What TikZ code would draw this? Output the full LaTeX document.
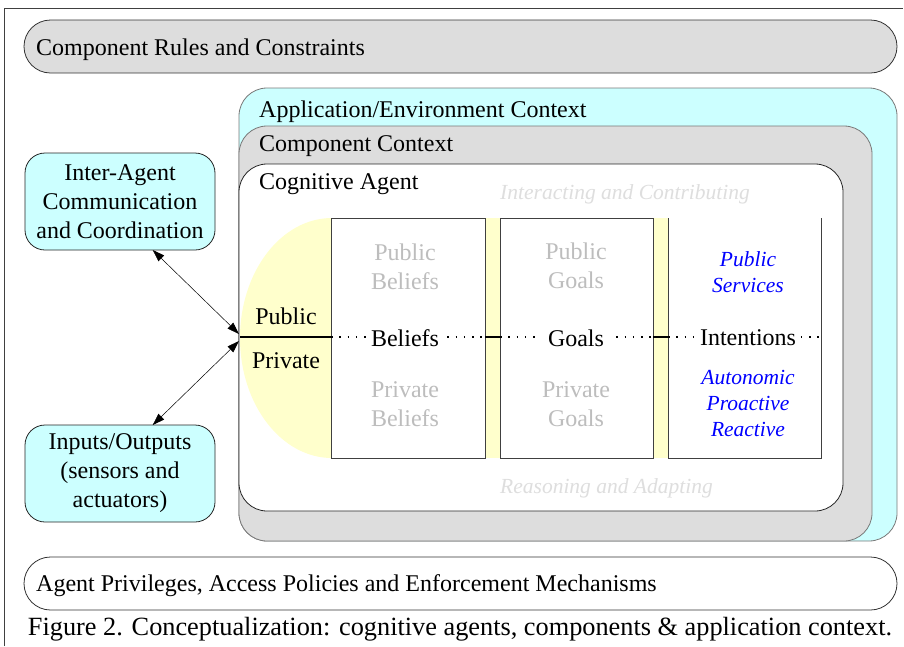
\documentclass[tikz,border=0pt]{standalone}
\usepackage{fontspec}
\setmainfont{Liberation Serif}
\usetikzlibrary{arrows.meta}
\definecolor{cyanfill}{HTML}{CCFFFF}
\definecolor{grayfill}{HTML}{DDDDDD}
\definecolor{yelfill}{HTML}{FFFFCC}
\definecolor{midtext}{HTML}{BDBDBD}
\definecolor{lighttext}{HTML}{DEDEDE}
\definecolor{edge}{HTML}{404040}
\definecolor{blueit}{HTML}{0000FF}
\begin{document}
\begin{tikzpicture}[x=1pt,y=-1pt,
  big/.style={font=\fontsize{24}{29}\selectfont},
  ital/.style={font=\fontsize{21.5}{26}\selectfont\itshape},
  captxt/.style={font=\fontsize{26.3}{30}\selectfont},
  band/.style={draw=black!80, line width=0.8pt, outer sep=0pt, inner sep=0pt},
  ctx/.style={draw=edge!70, line width=0.8pt, outer sep=0pt, inner sep=0pt, rounded corners=28pt},
  sidebox/.style={draw=black!85, line width=0.8pt, fill=cyanfill, rounded corners=20pt,
    minimum width=190pt, minimum height=97pt, outer sep=0pt, align=center, inner sep=0pt,
    font=\fontsize{24}{29}\selectfont},
  cell/.style={draw=edge, line width=0.8pt},
  sep/.style={line width=1.8pt, black},
  dots/.style={line width=1.5pt, black, dash pattern=on 1.5pt off 6.8pt},
  lbl/.style={fill=white, inner sep=3pt, font=\fontsize{24}{29}\selectfont},
  dual/.style={<->, line width=0.5pt, >={Triangle[length=12pt,width=8pt]}}
]
\useasboundingbox (0,0) rectangle (904,646);
% frame
\coordinate (fbl) at (4.5,646);
\coordinate (ftl) at (4.5,8);
\coordinate (ftr) at (903,8);
\draw[line width=0.8pt, black!75] (fbl) -- (ftl) -- (ftr);

% top band
\node[band, fill=grayfill, rounded corners=26.5pt, minimum width=873pt, minimum height=53pt] (rules) at (460.5,46.5) {};
\node[big, anchor=west, inner sep=0pt] (rulest) at (36,49.5) {Component Rules and Constraints};

% bottom band
\node[band, fill=white, rounded corners=26.5pt, minimum width=873pt, minimum height=53pt] (priv) at (460.5,583.5) {};
\node[big, anchor=west, inner sep=0pt] (privt) at (36,585.5) {Agent Privileges, Access Policies and Enforcement Mechanisms};

% caption
\node[captxt, inner sep=0pt] (caption) at (460,629) {Figure 2. Conceptualization: cognitive agents, components \& application context.};

% contexts
\node[ctx, fill=cyanfill, minimum width=658pt, minimum height=453pt] (app) at (568,314.5) {};
\node[big, anchor=west, inner sep=0pt] (appt) at (259,111.5) {Application/Environment Context};
\node[ctx, fill=grayfill, minimum width=633pt, minimum height=415pt] (comp) at (555.5,333.5) {};
\node[big, anchor=west, inner sep=0pt] (compt) at (259,146) {Component Context};
\node[ctx, draw=black!85, fill=white, minimum width=604pt, minimum height=347pt] (cog) at (541,337.5) {};
\node[big, anchor=west, inner sep=0pt] (cogt) at (259,184) {Cognitive Agent};

\node[ital, text=lighttext, anchor=west, inner sep=0pt] (interact) at (500,194.5) {Interacting and Contributing};
\node[ital, text=lighttext, anchor=west, inner sep=0pt] (reason) at (500,488.5) {Reasoning and Adapting};

% yellow areas
\fill[yelfill] (332,218) arc[start angle=270, end angle=90, x radius=92, y radius=120] -- cycle;
\fill[yelfill] (485,218) rectangle (500,458);
\fill[yelfill] (653,218) rectangle (668,458);

% cells
\node[cell, fill=white, minimum width=154pt, minimum height=240pt, inner sep=0pt, outer sep=0pt] (bel) at (408,338) {};
\node[cell, fill=white, minimum width=153pt, minimum height=240pt, inner sep=0pt, outer sep=0pt] (goa) at (576.5,338) {};
\coordinate (itl) at (668,218);
\coordinate (ibl) at (668,458);
\coordinate (ibr) at (821.5,458);
\coordinate (itr) at (821.5,218);
\draw[cell] (itl) -- (ibl) -- (ibr) -- (itr);

% separator line
\coordinate (s0) at (240,337);
\coordinate (b0) at (331,337);
\coordinate (b1) at (485,337);
\coordinate (g0) at (500,337);
\coordinate (g1) at (653,337);
\coordinate (i0) at (668,337);
\coordinate (i1) at (821.5,337);
\draw[sep] (s0) -- (b0);
\draw[sep] (b1) -- (g0);
\draw[sep] (g1) -- (i0);
\draw[dots] (b0) -- (b1);
\draw[dots] (g0) -- (g1);
\draw[dots] (i0) -- (i1);

\node[lbl] (belt) at (405,338) {Beliefs};
\node[lbl, inner xsep=9pt] (goat) at (576,338) {Goals};
\node[lbl] (intt) at (748,338) {Intentions};

\node[big, inner sep=0pt] (pub) at (286,316) {Public};
\node[big, inner sep=0pt] (pri) at (286,361) {Private};

\node[big, text=midtext, align=center, inner sep=0pt] (pubb) at (405,266.5) {Public\\Beliefs};
\node[big, text=midtext, align=center, inner sep=0pt] (prib) at (405,404) {Private\\Beliefs};
\node[big, text=midtext, align=center, inner sep=0pt] (pubg) at (576,266) {Public\\Goals};
\node[big, text=midtext, align=center, inner sep=0pt] (prig) at (576,404) {Private\\Goals};

\node[ital, text=blueit, align=center, inner sep=0pt] (pserv) at (748,272) {Public\\Services};
\node[ital, text=blueit, align=center, inner sep=0pt] (auto) at (748,403) {Autonomic\\Proactive\\Reactive};

% side boxes
\node[sidebox] (ia) at (120,201.5) {Inter-Agent\\Communication\\and Coordination};
\node[sidebox] (io) at (120,473.5) {Inputs/Outputs\\(sensors and\\actuators)};

\coordinate (pa) at (239,334);
\coordinate (pb) at (239,341);
\draw[dual] (ia.-56) -- (pa);
\draw[dual] (pb) -- (io.56);
\end{tikzpicture}
\end{document}
